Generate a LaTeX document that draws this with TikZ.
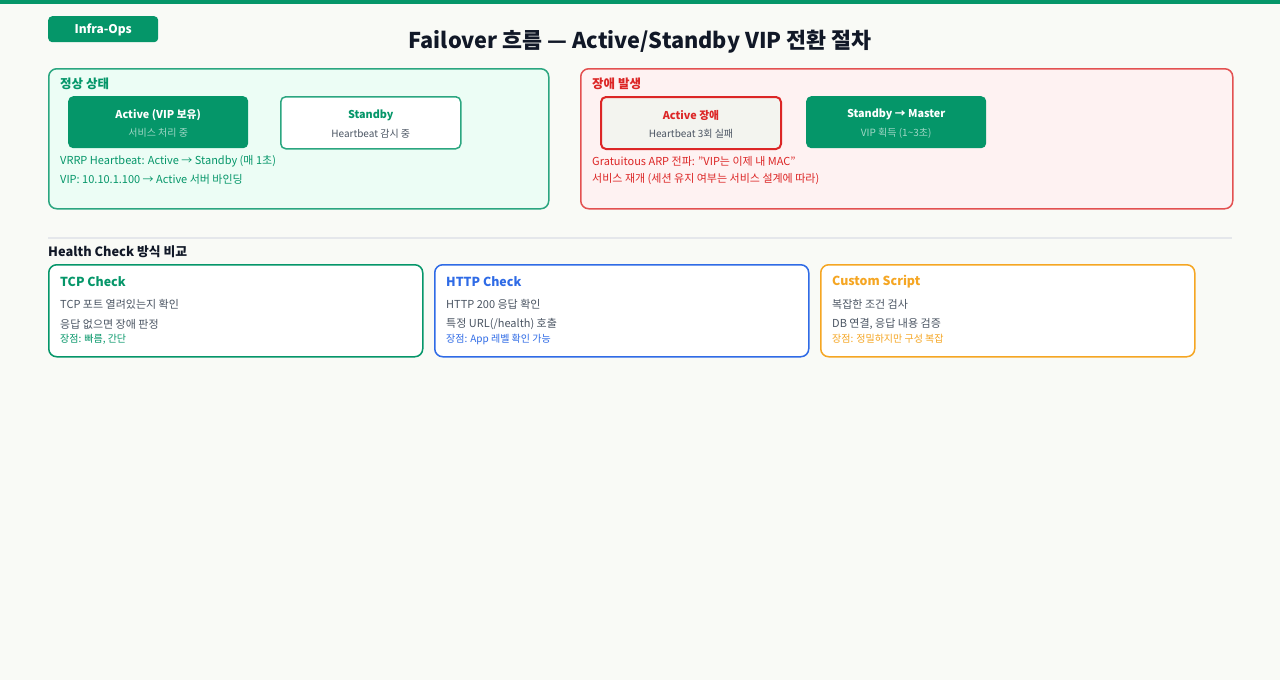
\documentclass[tikz,border=0pt]{standalone}
\usepackage{fontspec}
\setmainfont{Noto Sans CJK KR}
\usetikzlibrary{positioning}
\definecolor{paper}{HTML}{F9FAF6}
\definecolor{okgreen}{HTML}{059669}
\definecolor{okpale}{HTML}{ECFDF5}
\definecolor{failred}{HTML}{DC2626}
\definecolor{failpale}{HTML}{FEF2F2}
\definecolor{failgray}{HTML}{F3F4EF}
\definecolor{httpblue}{HTML}{2F6BE6}
\definecolor{scriptorange}{HTML}{F5A623}
\definecolor{inkdark}{HTML}{111827}
\definecolor{inkgray}{HTML}{4B5563}
\definecolor{rulegray}{HTML}{E5E7EB}
\newcommand{\fs}[1]{\fontsize{#1}{#1}\selectfont}

\begin{document}
\begin{tikzpicture}[x=1pt, y=-1pt,
	panel/.style={draw, line width=1.5pt, rounded corners=8pt, anchor=north west},
	srvbox/.style={rounded corners=5pt, anchor=north west, minimum width=180pt, minimum height=52pt},
	srvname/.style={font=\fs{10.8}\bfseries},
	srvnote/.style={font=\fs{10}},
	note/.style={anchor=west, font=\fs{11}, inner sep=0pt},
	cardtitle/.style={anchor=west, font=\fs{12.4}\bfseries, inner sep=0pt}]
	\fill[paper] (0,0) rectangle (1280,680);
	\useasboundingbox (0,0) rectangle (1280,680);
	\fill[okgreen] (0,0) rectangle (1280,4);
	% header
	\node[fill=okgreen, rounded corners=4pt, anchor=north west, minimum width=110pt, minimum height=26pt] (badge) at (48,16) {};
	\node[text=white, font=\fs{12}\bfseries] (badge-txt) at ([yshift=-1pt]badge.center) {Infra-Ops};
	\node[text=inkdark, font=\fs{21.7}\bfseries] (title) at (640,41.5) {Failover 흐름 — Active/Standby VIP 전환 절차};
	% normal state
	\node[panel, draw=okgreen!85, fill=okpale, minimum width=500pt, minimum height=140pt] (normal) at (48,68) {};
	\node[note, text=okgreen, font=\fs{12.5}\bfseries] (normal-lbl) at (60,84) {정상 상태};
	\node[srvbox, fill=okgreen] (active) at (68,96) {};
	\node[srvname, text=white] at ([yshift=7.5pt]active.center) {Active (VIP 보유)};
	\node[srvnote, text=white!62!okgreen] at ([yshift=-11pt]active.center) {서비스 처리 중};
	\node[srvbox, fill=white, draw=okgreen!85, line width=1.5pt] (standby) at (280,96) {};
	\node[srvname, text=okgreen] at ([yshift=7.5pt]standby.center) {Standby};
	\node[srvnote, text=inkgray] at ([yshift=-11pt]standby.center) {Heartbeat 감시 중};
	\node[note, text=okgreen] (hb) at (60,161) {VRRP Heartbeat: Active → Standby (매 1초)};
	\node[note, text=okgreen] (vip) at (60,179) {VIP: 10.10.1.100 → Active 서버 바인딩};
	% failure
	\node[panel, draw=failred!80, fill=failpale, minimum width=652pt, minimum height=140pt] (fail) at (580,68) {};
	\node[note, text=failred, font=\fs{12.5}\bfseries] (fail-lbl) at (592,84) {장애 발생};
	\node[srvbox, fill=failgray, draw=failred, line width=2pt] (down) at (600,96) {};
	\node[srvname, text=failred] at ([yshift=7.5pt]down.center) {Active 장애};
	\node[srvnote, text=inkgray] at ([yshift=-11pt]down.center) {Heartbeat 3회 실패};
	\node[srvbox, fill=okgreen] (master) at (806,96) {};
	\node[srvname, text=white] at ([yshift=7.5pt]master.center) {Standby → Master};
	\node[srvnote, text=white!62!okgreen] at ([yshift=-11pt]master.center) {VIP 획득 (1\textasciitilde3초)};
	\node[note, text=failred] (garp) at (592,161) {Gratuitous ARP 전파: "VIP는 이제 내 MAC"};
	\node[note, text=failred] (resume) at (592,179) {서비스 재개 (세션 유지 여부는 서비스 설계에 따라)};
	% health checks
	\draw[rulegray, line width=1.5pt] (48,238) -- (1232,238);
	\node[note, text=inkdark, font=\fs{12.8}\bfseries] (hc) at (48,252) {Health Check 방식 비교};
	\foreach \n/\x/\col/\ttl/\la/\lb/\lc in {
		tcp/48/okgreen/{TCP Check}/{TCP 포트 열려있는지 확인}/{응답 없으면 장애 판정}/{장점: 빠름, 간단},
		http/434/httpblue/{HTTP Check}/{HTTP 200 응답 확인}/{특정 URL(/health) 호출}/{장점: App 레벨 확인 가능},
		script/820/scriptorange/{Custom Script}/{복잡한 조건 검사}/{DB 연결, 응답 내용 검증}/{장점: 정밀하지만 구성 복잡}} {
		\node[panel, draw=\col, fill=white, minimum width=374pt, minimum height=92pt] (\n) at (\x,264) {};
		\node[cardtitle, text=\col] (\n-ttl) at (\x+12,282) {\ttl};
		\node[note, text=inkgray] (\n-a) at (\x+12,304) {\la};
		\node[note, text=inkgray] (\n-b) at (\x+12,324) {\lb};
		\node[note, text=\col, font=\fs{10}] (\n-c) at (\x+12,339) {\lc};
	}
\end{tikzpicture}
\end{document}
